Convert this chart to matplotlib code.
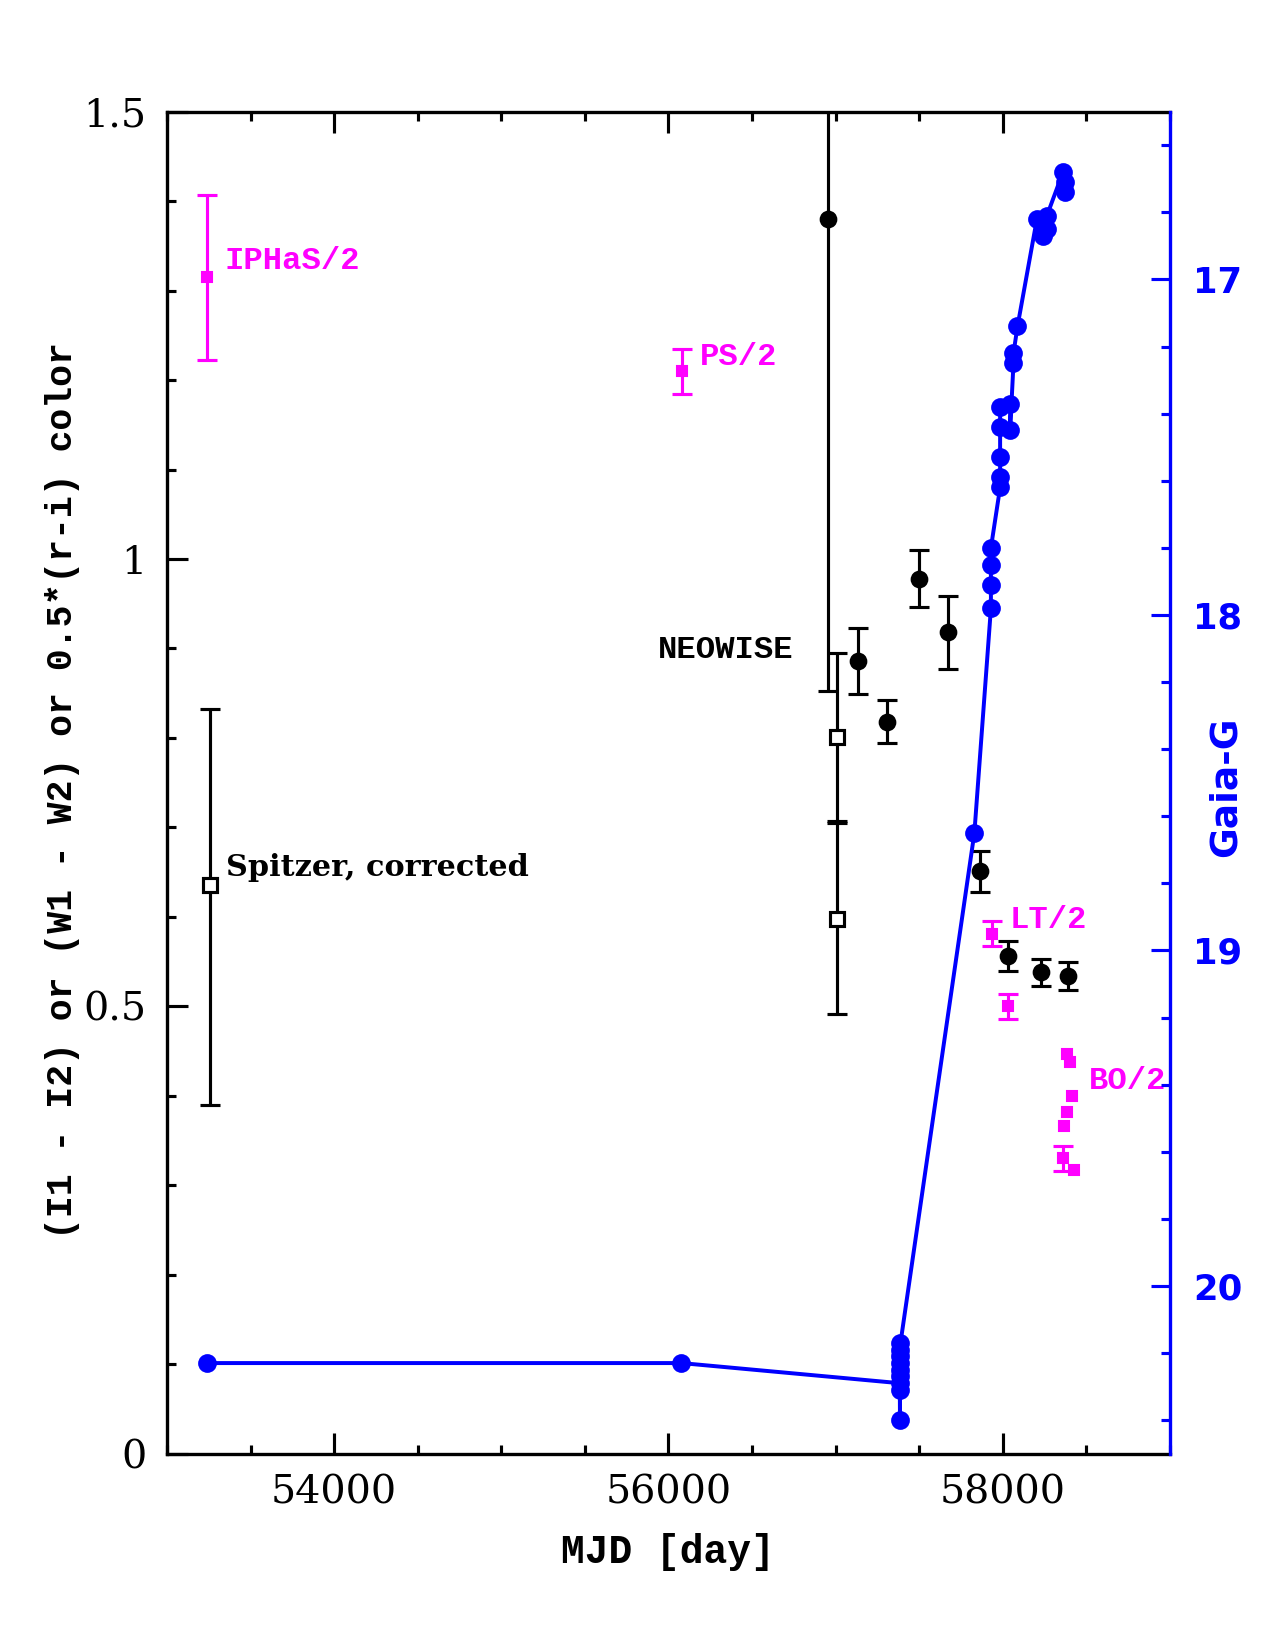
import matplotlib
matplotlib.use("Agg")
import matplotlib.pyplot as plt
from matplotlib.ticker import MultipleLocator

# Gaia G light curve (right axis, magnitudes)
gaia_mjd = [53238, 56077,
            57384, 57384, 57385, 57385, 57386, 57386, 57387, 57387, 57388,
            57830,
            57929, 57929, 57929, 57929,
            57984, 57984, 57984, 57984, 57984,
            58044, 58044, 58064, 58064, 58088,
            58204, 58238, 58238, 58264, 58264,
            58360, 58374, 58374]
gaia_mag = [20.23, 20.23,
            20.29, 20.31, 20.40, 20.27, 20.25, 20.23, 20.21, 20.19, 20.17,
            18.65,
            17.98, 17.91, 17.85, 17.80,
            17.62, 17.59, 17.53, 17.44, 17.38,
            17.37, 17.45, 17.25, 17.22, 17.14,
            16.82, 16.87, 16.85, 16.85, 16.81,
            16.68, 16.71, 16.74]

# NEOWISE W1-W2 (filled black circles)
neo_mjd = [56953, 57136, 57310, 57499, 57671, 57865, 58034, 58230, 58393]
neo_col = [1.380, 0.886, 0.818, 0.978, 0.918, 0.651, 0.556, 0.538, 0.534]
neo_err = [0.527, 0.037, 0.024, 0.032, 0.041, 0.023, 0.017, 0.015, 0.016]

# Spitzer I1-I2 (open squares), asymmetric errors
spz_mjd = [53258, 57010, 57010]
spz_col = [0.636, 0.801, 0.598]
spz_err_lo = [0.246, 0.094, 0.107]
spz_err_hi = [0.196, 0.094, 0.107]

# 0.5*(r-i) colours (magenta)
iphas_mjd, iphas_col, iphas_err = [53240], [1.315], [0.092]
ps_mjd, ps_col, ps_err = [56082], [1.210], [0.025]
lt_mjd = [57935, 58034]
lt_col = [0.581, 0.500]
lt_err = [0.014, 0.014]
bo_mjd = [58384, 58400, 58417, 58387, 58368, 58429]
bo_col = [0.447, 0.438, 0.400, 0.382, 0.366, 0.317]
bo_eb_mjd, bo_eb_col, bo_eb_err = [58360], [0.330], [0.014]

mono = "Liberation Mono"
serif = "DejaVu Serif"

fig = plt.figure(figsize=(8.5, 11), dpi=150)
ax = fig.add_axes([0.131, 0.119, 0.7866, 0.8133])

eb = dict(capsize=5, elinewidth=1.5, capthick=1.5, linestyle="none")
ax.errorbar(neo_mjd, neo_col, yerr=neo_err, fmt="o", color="black",
            markersize=7.5, **eb)
ax.errorbar(spz_mjd, spz_col, yerr=[spz_err_lo, spz_err_hi], fmt="s",
            color="black", markerfacecolor="white", markeredgewidth=1.5,
            markersize=7, **eb)
for xs, ys, es in [(iphas_mjd, iphas_col, iphas_err), (ps_mjd, ps_col, ps_err),
                   (lt_mjd, lt_col, lt_err), (bo_eb_mjd, bo_eb_col, bo_eb_err)]:
    ax.errorbar(xs, ys, yerr=es, fmt="s", color="magenta", markersize=4.5, **eb)
ax.plot(bo_mjd, bo_col, "s", color="magenta", markersize=4.5, linestyle="none")

lab = dict(family=mono, fontweight="bold", fontsize=15.5, va="center")
ax.text(53344, 1.333, "IPHaS/2", color="magenta", **lab)
ax.text(56188, 1.226, "PS/2", color="magenta", **lab)
ax.text(58038, 0.597, "LT/2", color="magenta", **lab)
ax.text(58517, 0.417, "BO/2", color="magenta", **lab)
ax.text(56745, 0.898, "NEOWISE", color="black", ha="right", **lab)
ax.text(53354, 0.655, "Spitzer, corrected", color="black", family=serif,
        fontweight="bold", fontsize=14.5, va="center")

ax.set_xlim(53000, 59000)
ax.set_ylim(0, 1.5)
ax.xaxis.set_major_locator(MultipleLocator(2000))
ax.xaxis.set_minor_locator(MultipleLocator(500))
ax.yaxis.set_major_locator(MultipleLocator(0.5))
ax.yaxis.set_minor_locator(MultipleLocator(0.1))
ax.set_yticks([0, 0.5, 1, 1.5])
ax.set_yticklabels(["0", "0.5", "1", "1.5"])
ax.tick_params(which="both", direction="in", top=True, right=False,
               width=1.5, labelsize=19, pad=10)
ax.tick_params(which="major", length=10)
ax.tick_params(which="minor", length=4.5)
for t in ax.get_xticklabels() + ax.get_yticklabels():
    t.set_family(serif)
for s in ["left", "top", "bottom"]:
    ax.spines[s].set_linewidth(1.6)
ax.spines["right"].set_visible(False)

ax.set_xlabel("MJD [day]", family=mono, fontsize=19, fontweight="bold")
ax.xaxis.set_label_coords(0.499, -0.059)
ax.set_ylabel("(I1 - I2) or (W1 - W2) or 0.5*(r-i) color", family=mono,
              fontsize=17.5, fontweight="bold")
ax.yaxis.set_label_coords(-0.087, 0.494)

ax2 = ax.twinx()
ax2.plot(gaia_mjd, gaia_mag, "-o", color="blue", linewidth=1.9, markersize=8)
ax2.set_ylim(20.5, 16.5)
ax2.yaxis.set_major_locator(MultipleLocator(1))
ax2.yaxis.set_minor_locator(MultipleLocator(0.2))
ax2.tick_params(which="both", direction="in", color="blue", labelcolor="blue",
                width=1.5, labelsize=17, pad=11)
ax2.tick_params(which="major", length=9)
ax2.tick_params(which="minor", length=4.5)
for t in ax2.get_yticklabels():
    t.set_fontweight("bold")
for s in ["left", "top", "bottom"]:
    ax2.spines[s].set_visible(False)
ax2.spines["right"].set_color("blue")
ax2.spines["right"].set_linewidth(1.6)
ax2.set_ylabel("Gaia-G", color="blue", fontsize=18, fontweight="bold")
ax2.yaxis.set_label_coords(1.038, 0.497)

fig.savefig("out.png", dpi=150)
